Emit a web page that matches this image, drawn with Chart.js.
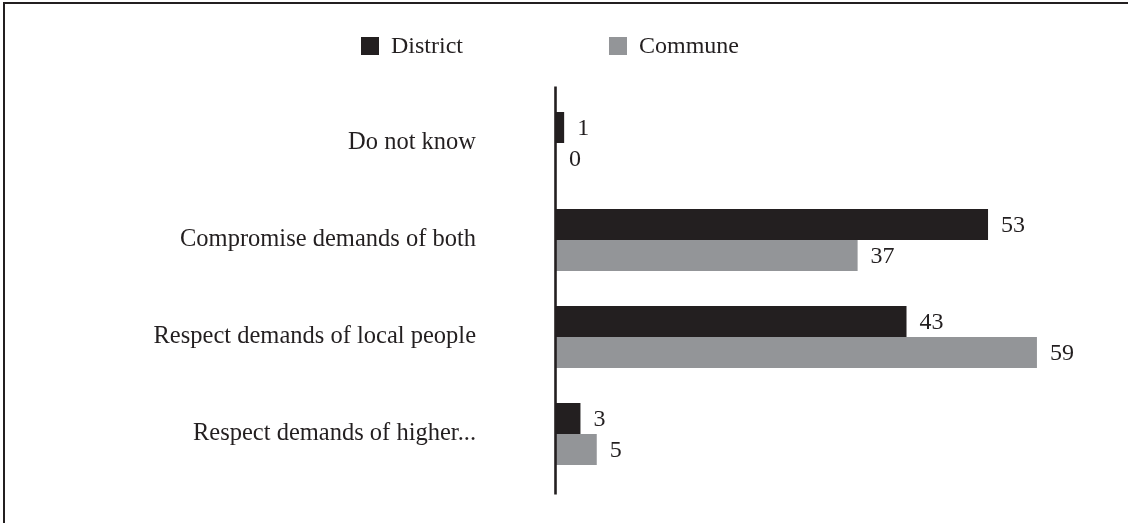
<!DOCTYPE html>
<html>
<head>
<meta charset="utf-8">
<script src="https://cdn.jsdelivr.net/npm/chart.js@4.4.0/dist/chart.umd.min.js"></script>
<style>
  html, body { margin: 0; padding: 0; background: #fff; overflow: hidden; }
  #wrap { position: relative; width: 1128px; height: 523px; }
</style>
</head>
<body>
<div id="wrap"><canvas id="chart" width="1128" height="523"></canvas></div>
<script>
// categories and values
const categories = ['Do not know', 'Compromise demands of both', 'Respect demands of local people', 'Respect demands of higher...'];
const districtValues = [1, 53, 43, 3];
const communeValues = [0, 37, 59, 5];
const seriesNames = ['District', 'Commune'];
const seriesColors = ['#231f20', '#939598'];

const FONT = "'Liberation Serif', 'Times New Roman', serif";
const INK = '#231f20';

// frame round the picture (only top and left edges are visible)
const framePlugin = {
    id: 'frame',
    afterDraw(chart) {
        const ctx = chart.ctx;
        ctx.save();
        ctx.strokeStyle = INK;
        ctx.lineWidth = 2;
        ctx.strokeRect(4, 3, chart.width + 20, chart.height + 20);
        ctx.restore();
    }
};

// vertical axis line, a bit longer than the plot area
const axisLinePlugin = {
    id: 'axisLine',
    afterDatasetsDraw(chart) {
        const { ctx, chartArea } = chart;
        ctx.save();
        ctx.strokeStyle = INK;
        ctx.lineWidth = 2.6;
        ctx.beginPath();
        ctx.moveTo(chartArea.left - 0.5, chartArea.top - 8);
        ctx.lineTo(chartArea.left - 0.5, chartArea.bottom + 12);
        ctx.stroke();
        ctx.restore();
    }
};

// value labels after bar ends
const valueLabelPlugin = {
    id: 'valueLabels',
    afterDatasetsDraw(chart) {
        const ctx = chart.ctx;
        ctx.save();
        ctx.font = '24px ' + FONT;
        ctx.fillStyle = INK;
        ctx.textAlign = 'left';
        ctx.textBaseline = 'middle';
        chart.data.datasets.forEach((ds, i) => {
            chart.getDatasetMeta(i).data.forEach((bar, j) => {
                ctx.fillText(String(ds.data[j]), bar.x + 13, bar.y + 1);
            });
        });
        ctx.restore();
    }
};

// legend drawn at the top
const legendPlugin = {
    id: 'topLegend',
    afterDraw(chart) {
        const ctx = chart.ctx;
        ctx.save();
        ctx.font = '24px ' + FONT;
        ctx.textBaseline = 'middle';
        let x = 361;
        const y = 46;
        chart.data.datasets.forEach(ds => {
            ctx.fillStyle = ds.backgroundColor;
            ctx.fillRect(x, y - 9, 18, 18);
            ctx.fillStyle = INK;
            ctx.fillText(ds.label, x + 30, y + 1);
            x += 30 + ctx.measureText(ds.label).width + 146;
        });
        ctx.restore();
    }
};

Chart.defaults.font.family = FONT;
Chart.defaults.color = INK;

new Chart(document.getElementById('chart'), {
    type: 'bar',
    data: {
        labels: categories,
        datasets: [
            { label: seriesNames[0], data: districtValues, backgroundColor: seriesColors[0] },
            { label: seriesNames[1], data: communeValues, backgroundColor: seriesColors[1] }
        ]
    },
    options: {
        indexAxis: 'y',
        responsive: false,
        animation: false,
        layout: { padding: { top: 94.5, bottom: 40.5, left: 0, right: 66.6 } },
        datasets: { bar: { categoryPercentage: 0.64, barPercentage: 1.0 } },
        scales: {
            x: { display: false, min: 0, max: 62 },
            y: {
                grid: { display: false, drawTicks: false },
                border: { display: false },
                ticks: { color: INK, font: { size: 24.5 }, padding: 80 },
                afterFit: s => {
                    s.width = 556;
                    s.paddingTop = 0;
                    s.paddingBottom = 0;
                }
            }
        },
        plugins: {
            legend: { display: false },
            tooltip: { enabled: false }
        }
    },
    plugins: [framePlugin, axisLinePlugin, valueLabelPlugin, legendPlugin]
});
</script>
</body>
</html>
